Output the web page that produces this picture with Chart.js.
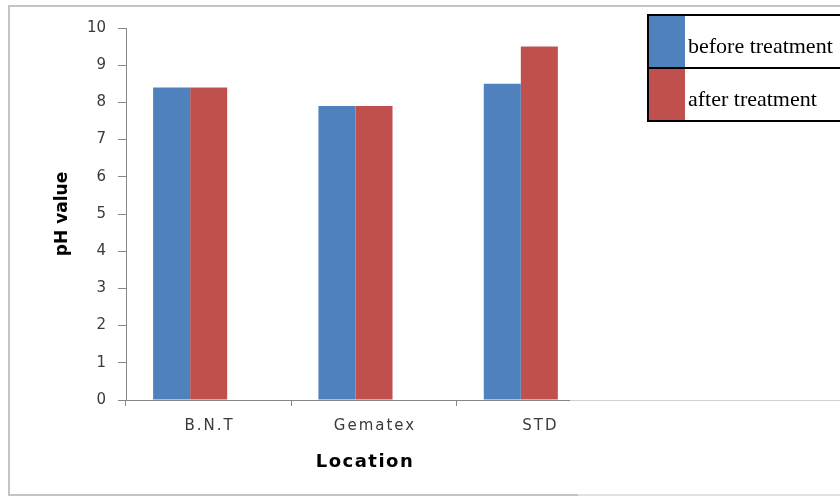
<!DOCTYPE html>
<html>
<head>
<meta charset="utf-8">
<script src="https://cdn.jsdelivr.net/npm/chart.js@4.4.1/dist/chart.umd.min.js"></script>
<style>
  html, body { margin: 0; padding: 0; background: #ffffff; }
  canvas { display: block; }
</style>
</head>
<body>
<canvas id="chart" width="840" height="498"></canvas>
<script>
// pH of effluent samples by location
const categories = ['B.N.T', 'Gematex', 'STD'];
const beforeTreatment = [8.4, 7.9, 8.5];
const afterTreatment = [8.4, 7.9, 9.5];
const seriesNames = ['before treatment', 'after treatment'];
const seriesColors = ['#4F81BD', '#C0504D'];
const yMin = 0, yMax = 10, yStep = 1;

const AXIS_GREY = '#868686';
const TEXT_GREY = '#3a3a3a';

// Outer frame, x axis line, category labels, axis title and boxed legend
const decorations = {
  id: 'decorations',
  afterDraw(chart) {
    const ctx = chart.ctx;
    const x = chart.scales.x;
    const area = chart.chartArea;
    ctx.save();

    // frame
    ctx.lineWidth = 2;
    ctx.strokeStyle = '#c4c4c4';
    ctx.beginPath();
    ctx.moveTo(8, 6); ctx.lineTo(840, 6);
    ctx.moveTo(9, 5); ctx.lineTo(9, 496);
    ctx.moveTo(8, 495); ctx.lineTo(578, 495);
    ctx.stroke();
    ctx.strokeStyle = '#e2e2e2';
    ctx.beginPath();
    ctx.moveTo(578, 495); ctx.lineTo(840, 495);
    ctx.stroke();

    // x axis line
    ctx.lineWidth = 1;
    ctx.strokeStyle = AXIS_GREY;
    ctx.beginPath();
    ctx.moveTo(area.left, area.bottom + 0.5); ctx.lineTo(570, area.bottom + 0.5);
    ctx.stroke();
    ctx.strokeStyle = '#d0d0d0';
    ctx.beginPath();
    ctx.moveTo(570, area.bottom + 0.5); ctx.lineTo(840, area.bottom + 0.5);
    ctx.stroke();

    // category labels
    const spacing = 2;
    ctx.letterSpacing = spacing + 'px';
    ctx.font = '15px "DejaVu Sans"';
    ctx.fillStyle = TEXT_GREY;
    ctx.textAlign = 'center';
    ctx.textBaseline = 'middle';
    categories.forEach((c, i) => {
      ctx.fillText(c, x.getPixelForValue(i) + spacing / 2, 426);
    });

    // x axis title
    ctx.letterSpacing = '1.5px';
    ctx.font = 'bold 18px "DejaVu Sans"';
    ctx.fillStyle = '#000000';
    ctx.fillText('Location', 365, 462);
    ctx.letterSpacing = '0px';

    // legend box
    const lx = 648, ly = 15, lw = 200, rowH = 53;
    seriesNames.forEach((name, i) => {
      const top = ly + i * rowH;
      ctx.fillStyle = seriesColors[i];
      ctx.fillRect(lx, top, 37, rowH);
      ctx.fillStyle = '#000000';
      ctx.font = '22px "Liberation Serif"';
      ctx.textAlign = 'left';
      ctx.textBaseline = 'alphabetic';
      ctx.fillText(name, lx + 40, top + 38);
    });
    ctx.strokeStyle = '#000000';
    ctx.lineWidth = 2;
    ctx.strokeRect(lx, ly, lw, rowH * 2);
    ctx.beginPath();
    ctx.moveTo(lx, ly + rowH); ctx.lineTo(lx + lw, ly + rowH);
    ctx.stroke();

    ctx.restore();
  }
};

new Chart(document.getElementById('chart'), {
  type: 'bar',
  data: {
    labels: categories,
    datasets: [
      { label: seriesNames[0], data: beforeTreatment, backgroundColor: seriesColors[0] },
      { label: seriesNames[1], data: afterTreatment, backgroundColor: seriesColors[1] },
      // empty slot keeps the pair left of each category centre
      { label: '', data: categories.map(() => null), backgroundColor: 'rgba(0,0,0,0)' }
    ]
  },
  options: {
    responsive: false,
    animation: false,
    events: [],
    layout: { padding: { left: 52, right: 218, top: 28, bottom: 0 } },
    datasets: { bar: { barPercentage: 1, categoryPercentage: 0.672, borderWidth: 0 } },
    plugins: {
      legend: { display: false },
      tooltip: { enabled: false },
      title: { display: false }
    },
    scales: {
      x: {
        type: 'category',
        offset: true,
        afterFit: (s) => { s.height = 98; },
        grid: {
          offset: true,
          drawOnChartArea: false,
          drawTicks: true,
          tickLength: 6,
          color: (c) => (c.type === 'tick' ? AXIS_GREY : 'rgba(0,0,0,0)')
        },
        border: { display: false },
        ticks: { display: false }
      },
      y: {
        min: yMin,
        max: yMax,
        afterFit: (s) => { s.width = 74; },
        ticks: {
          stepSize: yStep,
          padding: 12,
          color: TEXT_GREY,
          font: { family: 'DejaVu Sans', size: 15 }
        },
        grid: {
          drawOnChartArea: false,
          drawTicks: true,
          tickLength: 8,
          color: AXIS_GREY
        },
        border: { display: true, color: AXIS_GREY, width: 1 },
        title: {
          display: true,
          text: 'pH value',
          color: '#000000',
          padding: { top: 0, bottom: 0 },
          font: { family: 'DejaVu Sans', size: 17, weight: 'bold', lineHeight: 1.2 }
        }
      }
    }
  },
  plugins: [decorations]
});
</script>
</body>
</html>
